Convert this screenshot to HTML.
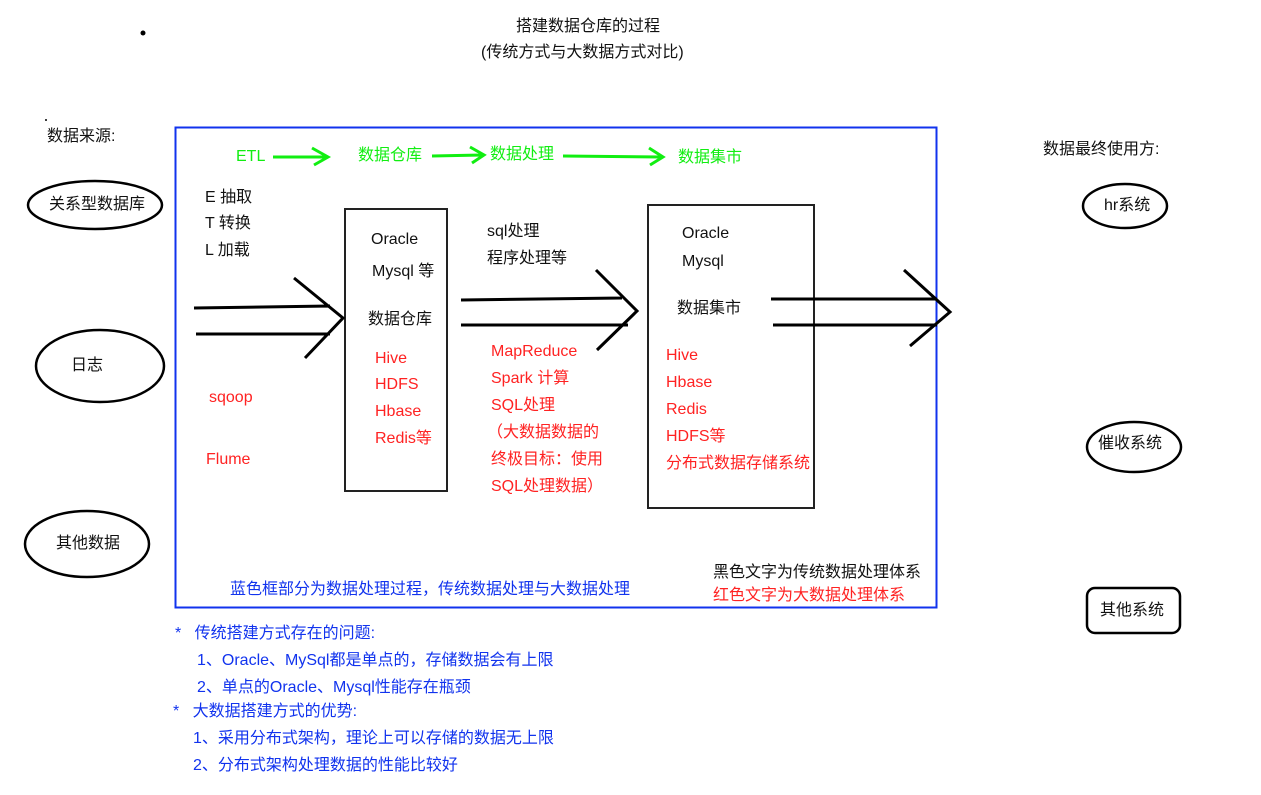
<!DOCTYPE html>
<html><head><meta charset="utf-8"><style>
body{margin:0;width:1261px;height:795px;background:#fff;position:relative;overflow:hidden;font-family:"Liberation Sans","Noto Sans CJK SC",sans-serif;font-size:16px;color:#111}
.t{position:absolute;line-height:20px;white-space:nowrap}
.r{color:#f22}.g{color:#1e1}.b{color:#1133ee}
</style></head><body>
<svg width="1261" height="795" style="position:absolute;left:0;top:0">
<circle cx="143" cy="33" r="2.5" fill="#000"/>
<circle cx="46" cy="120" r="1" fill="#000"/>
<rect x="175.5" y="127.5" width="761" height="480" fill="none" stroke="#1133ee" stroke-width="2"/>
<g stroke="#1e1" stroke-width="3" fill="none">
<path d="M273 157 L326 157 M312 148 L328 157 L314 165"/>
<path d="M432 156 L482 155 M470 147 L484 155 L472 163"/>
<path d="M563 156 L661 157 M649 148 L663 157 L650 165"/>
</g>
<g fill="none" stroke="#000" stroke-width="2.5">
<ellipse cx="95" cy="205" rx="67" ry="24"/>
<ellipse cx="100" cy="366" rx="64" ry="36"/>
<ellipse cx="87" cy="544" rx="62" ry="33"/>
<ellipse cx="1125" cy="206" rx="42" ry="22"/>
<ellipse cx="1134" cy="447" rx="47" ry="25"/>
<rect x="1087" y="588" width="93" height="45" rx="8"/>
</g>
<g fill="none" stroke="#222" stroke-width="2">
<rect x="345" y="209" width="102" height="282"/>
<rect x="648" y="205" width="166" height="303"/>
</g>
<g fill="none" stroke="#000" stroke-width="3">
<path d="M194 308 L330 306 M196 334 L330 334 M294 278 L343 318 L305 358"/>
<path d="M461 300 L622 298 M461 325 L628 325 M596 270 L637 311 L597 350"/>
<path d="M771 299 L937 299 M773 325 L937 325 M904 270 L950 312 L910 346"/>
</g>
</svg>
<div class="t" style="left:516px;top:17px">搭建数据仓库的过程</div>
<div class="t" style="left:481px;top:43px">(传统方式与大数据方式对比)</div>
<div class="t" style="left:47px;top:127px">数据来源:</div>
<div class="t" style="left:1043px;top:140px">数据最终使用方:</div>
<div class="t" style="left:49px;top:195px">关系型数据库</div>
<div class="t" style="left:71px;top:356px">日志</div>
<div class="t" style="left:56px;top:534px">其他数据</div>
<div class="t" style="left:1104px;top:196px">hr系统</div>
<div class="t" style="left:1098px;top:434px">催收系统</div>
<div class="t" style="left:1100px;top:601px">其他系统</div>
<div class="t g" style="left:236px;top:147px">ETL</div>
<div class="t g" style="left:358px;top:146px">数据仓库</div>
<div class="t g" style="left:490px;top:145px">数据处理</div>
<div class="t g" style="left:678px;top:148px">数据集市</div>
<div class="t" style="left:205px;top:188px">E 抽取</div>
<div class="t" style="left:205px;top:214px">T 转换</div>
<div class="t" style="left:205px;top:241px">L 加载</div>
<div class="t" style="left:371px;top:230px">Oracle</div>
<div class="t" style="left:372px;top:262px">Mysql 等</div>
<div class="t" style="left:368px;top:310px">数据仓库</div>
<div class="t r" style="left:375px;top:349px">Hive</div>
<div class="t r" style="left:375px;top:375px">HDFS</div>
<div class="t r" style="left:375px;top:402px">Hbase</div>
<div class="t r" style="left:375px;top:429px">Redis等</div>
<div class="t r" style="left:209px;top:388px">sqoop</div>
<div class="t r" style="left:206px;top:450px">Flume</div>
<div class="t" style="left:487px;top:222px">sql处理</div>
<div class="t" style="left:487px;top:249px">程序处理等</div>
<div class="t r" style="left:491px;top:342px">MapReduce</div>
<div class="t r" style="left:491px;top:369px">Spark 计算</div>
<div class="t r" style="left:491px;top:396px">SQL处理</div>
<div class="t r" style="left:487px;top:423px">（大数据数据的</div>
<div class="t r" style="left:491px;top:450px">终极目标：使用</div>
<div class="t r" style="left:491px;top:477px">SQL处理数据）</div>
<div class="t" style="left:682px;top:224px">Oracle</div>
<div class="t" style="left:682px;top:252px">Mysql</div>
<div class="t" style="left:677px;top:299px">数据集市</div>
<div class="t r" style="left:666px;top:346px">Hive</div>
<div class="t r" style="left:666px;top:373px">Hbase</div>
<div class="t r" style="left:666px;top:400px">Redis</div>
<div class="t r" style="left:666px;top:427px">HDFS等</div>
<div class="t r" style="left:666px;top:454px">分布式数据存储系统</div>
<div class="t" style="left:713px;top:563px">黑色文字为传统数据处理体系</div>
<div class="t r" style="left:713px;top:586px">红色文字为大数据处理体系</div>
<div class="t b" style="left:230px;top:580px">蓝色框部分为数据处理过程，传统数据处理与大数据处理</div>
<div class="t b" style="left:175px;top:624px">*&nbsp;&nbsp; 传统搭建方式存在的问题:</div>
<div class="t b" style="left:197px;top:651px">1、Oracle、MySql都是单点的，存储数据会有上限</div>
<div class="t b" style="left:197px;top:678px">2、单点的Oracle、Mysql性能存在瓶颈</div>
<div class="t b" style="left:173px;top:702px">*&nbsp;&nbsp; 大数据搭建方式的优势:</div>
<div class="t b" style="left:193px;top:729px">1、采用分布式架构，理论上可以存储的数据无上限</div>
<div class="t b" style="left:193px;top:756px">2、分布式架构处理数据的性能比较好</div>
</body></html>
